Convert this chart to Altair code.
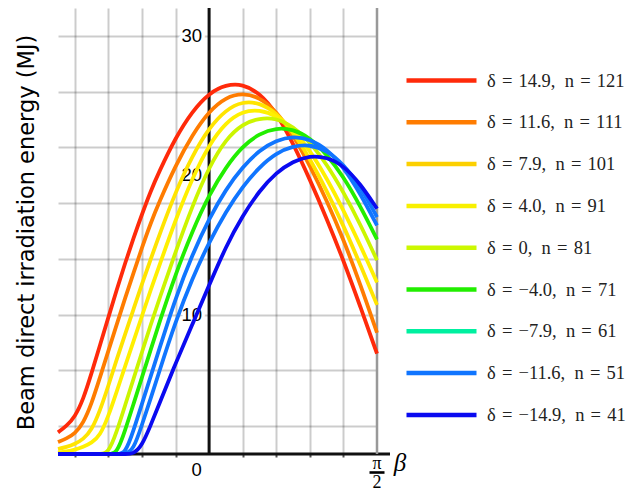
import math
import altair as alt
import pandas as pd

PI = math.pi

# Tilt angle samples, in multiples of pi/20 (finer on the left where curves bend)
beta_steps = [-9, -8.5, -8, -7.5, -7, -6.5, -6, -5.5, -5, -4.5, -4, -3.5, -3,
              -2, -1, 0, 1, 2, 3, 4, 5, 6, 7, 8, 9, 10]

# Declination (degrees) and day number of each curve
delta_text = ["14.9", "11.6", "7.9", "4.0", "0", "\u22124.0", "\u22127.9", "\u221211.6", "\u221214.9"]
day_numbers = [121, 111, 101, 91, 81, 71, 61, 51, 41]

# Daily beam energy (MJ) on the tilted surface
energy_d149 = [1.55, 2.0, 2.65, 3.9, 5.8, 7.8, 9.8, 11.8, 13.7, 15.5, 17.2, 18.8, 20.2,
               22.7, 24.6, 25.9, 26.5, 26.55, 25.9, 24.5, 22.3, 19.7, 16.9, 13.9, 10.6, 7.2]
energy_d116 = [0.86, 1.1, 1.45, 2.2, 3.6, 5.5, 7.4, 9.3, 11.2, 13.0, 14.8, 16.5, 18.0,
               20.7, 22.9, 24.6, 25.6, 25.9, 25.6, 24.6, 22.9, 20.7, 18.2, 15.4, 12.2, 8.7]
energy_d79 = [0.36, 0.5, 0.72, 1.05, 1.7, 3.1, 4.9, 6.8, 8.6, 10.4, 12.2, 13.9, 15.6,
              18.8, 21.4, 23.4, 24.7, 25.3, 25.2, 24.5, 23.1, 21.2, 18.9, 16.4, 13.6, 10.7]
energy_d40 = [0.1, 0.18, 0.3, 0.5, 0.8, 1.3, 2.7, 4.5, 6.3, 8.1, 9.9, 11.7, 13.4,
              16.8, 19.8, 22.2, 23.8, 24.6, 24.7, 24.3, 23.3, 21.8, 19.8, 17.5, 15.0, 12.3]
energy_d0 = [0, 0, 0, 0, 0, 0, 0.05, 1.6, 3.5, 5.4, 7.3, 9.2, 11.0,
             14.5, 17.8, 20.6, 22.6, 23.7, 24.1, 24.1, 23.5, 22.4, 20.8, 18.8, 16.5, 13.9]
energy_dm40 = [0, 0, 0, 0, 0, 0, 0, 0, 1.7, 3.6, 5.5, 7.4, 9.3,
               12.9, 16.0, 18.6, 20.6, 22.1, 23.0, 23.4, 23.3, 22.7, 21.5, 19.9, 17.8, 15.4]
energy_dm79 = [0, 0, 0, 0, 0, 0, 0, 0, 0, 1.7, 3.6, 5.5, 7.4,
               11.2, 14.3, 16.9, 19.0, 20.6, 21.8, 22.5, 22.8, 22.6, 21.9, 20.6, 18.7, 16.4]
energy_dm116 = [0, 0, 0, 0, 0, 0, 0, 0, 0, 0.3, 2.1, 3.9, 5.8,
                9.5, 12.6, 15.2, 17.4, 19.2, 20.6, 21.6, 22.1, 22.2, 21.8, 20.8, 19.2, 17.0]
energy_dm149 = [0, 0, 0, 0, 0, 0, 0, 0, 0, 0, 0.6, 2.0, 3.5,
                6.5, 9.3, 12.1, 14.9, 17.1, 18.9, 20.2, 21.0, 21.4, 21.3, 20.7, 19.4, 17.6]

all_energy = [energy_d149, energy_d116, energy_d79, energy_d40, energy_d0,
              energy_dm40, energy_dm79, energy_dm116, energy_dm149]

line_colors = ["#ff2a0a", "#ff7c00", "#ffe400", "#fff000", "#ccf500",
               "#22ee00", "#1075ff", "#1075ff", "#0a0af0"]
legend_colors = ["#ff2a0a", "#ff7c00", "#fcd000", "#f8f000", "#ccf800",
                 "#22ee00", "#00f0a0", "#1075ff", "#0a0af0"]

# Axis decorations
x_grid_values = [k * PI / 10 for k in (-4, -3, -2, -1, 1, 2, 3, 4)]
y_grid_values = list(range(2, 31, 2))
y_tick_values = [10, 20, 30]
x_tick_values = [0.0]
x_tick_text = ["0"]

BETA_MIN = -0.45 * PI
BETA_MAX = 0.5 * PI
E_MAX = 32
PLOT_W, PLOT_H = 319, 446

eq_sp = "\u2004"     # space around the equals signs
comma_sp = "\u2002"  # space after the comma
series_labels = [f"δ{eq_sp}={eq_sp}{d},{comma_sp}n{eq_sp}={eq_sp}{n}"
                 for d, n in zip(delta_text, day_numbers)]

rows = []
for order, (label, values) in enumerate(zip(series_labels, all_energy)):
    for k, e in zip(beta_steps, values):
        rows.append({"beta": k * PI / 20, "energy": e, "series": label, "order": order})
df = pd.DataFrame(rows)

x_scale = alt.Scale(domain=[BETA_MIN, BETA_MAX], nice=False, zero=False)
y_scale = alt.Scale(domain=[0, E_MAX], nice=False)

x_axis = alt.Axis(values=x_grid_values, grid=True, gridColor="black", gridOpacity=0.2,
                  gridWidth=2, labels=False, ticks=True, tickSize=3, tickWidth=2,
                  tickColor="#555", domain=False, title=None)
y_axis = alt.Axis(values=y_grid_values, grid=True, gridColor="black", gridOpacity=0.2,
                  gridWidth=2, labels=False, ticks=False, domain=False,
                  title="Beam direct irradiation energy (MJ)",
                  titleFont="DejaVu Sans", titleFontSize=22.5, titleFontWeight="normal",
                  titleColor="black", titleAngle=270, titleX=-24.7, titleY=224,
                  titleAlign="center", titleBaseline="alphabetic")

origin = pd.DataFrame({"beta": [0.0], "energy": [0.0]})

# Vertical axis line at beta = 0 (carries the grid axes)
y_axis_line = alt.Chart(origin).mark_rule(color="#111", strokeWidth=3).encode(
    x=alt.X("beta:Q", scale=x_scale, axis=x_axis),
    y=alt.Y("energy:Q", scale=y_scale, axis=y_axis),
    y2=alt.datum(E_MAX),
)
x_axis_line = alt.Chart(origin).mark_rule(color="#111", strokeWidth=3).encode(
    x=alt.datum(BETA_MIN), x2=alt.value(PLOT_W + 13), y=alt.datum(0),
)
right_edge = alt.Chart(origin).mark_rule(color="#999", strokeWidth=2.5).encode(
    x=alt.datum(BETA_MAX), y=alt.datum(0), y2=alt.datum(E_MAX),
)

ytick_df = pd.DataFrame({"energy": y_tick_values, "text": [str(v) for v in y_tick_values]})
label_font = dict(font="Liberation Sans", fontSize=18.5, align="right", baseline="middle", dx=-7)
y_halo = alt.Chart(ytick_df).mark_text(fill="white", stroke="white", strokeWidth=7,
                                       strokeJoin="round", **label_font).encode(
    x=alt.datum(0), y="energy:Q", text="text:N")
y_labels = alt.Chart(ytick_df).mark_text(color="black", **label_font).encode(
    x=alt.datum(0), y="energy:Q", text="text:N")

curves = alt.Chart(df).mark_line(strokeWidth=3.8, interpolate="basis").encode(
    x="beta:Q",
    y="energy:Q",
    color=alt.Color("series:N", scale=alt.Scale(domain=series_labels, range=line_colors),
                    legend=None),
    order="beta:Q",
)

legend_df = pd.DataFrame({"beta": [0.0] * len(series_labels),
                          "energy": [0.0] * len(series_labels),
                          "key": series_labels})
legend_layer = alt.Chart(legend_df).mark_line(strokeWidth=4.5).encode(
    x="beta:Q",
    y="energy:Q",
    color=alt.Color("key:N", scale=alt.Scale(domain=series_labels, range=legend_colors),
                    legend=alt.Legend(title=None, orient="none", legendX=371, legendY=60,
                                      symbolType="M-3.5,0H3.5", symbolSize=400,
                                      symbolStrokeWidth=4.5, symbolOpacity=1,
                                      labelFont="Liberation Serif", labelFontSize=18.5,
                                      labelColor="#222", labelOffset=33, labelLimit=400,
                                      rowPadding=19.8, padding=0)),
)

xtick_df = pd.DataFrame({"beta": x_tick_values, "text": x_tick_text})
x_zero = alt.Chart(xtick_df).mark_text(font="Liberation Sans", fontSize=18.5, dx=-12.5,
                                       align="center", baseline="middle", color="black").encode(
    x="beta:Q", y=alt.value(PLOT_H + 16), text="text:N")

frac_font = dict(font="Liberation Serif", fontSize=18, align="center", baseline="middle",
                 color="black")
x_pi = alt.Chart(origin).mark_text(text="π", **frac_font).encode(
    x=alt.datum(BETA_MAX), y=alt.value(PLOT_H + 9.5))
x_bar = alt.Chart(origin).mark_rule(color="black", strokeWidth=2.6, xOffset=-7.5,
                                    x2Offset=7.5).encode(
    x=alt.datum(BETA_MAX), x2=alt.datum(BETA_MAX), y=alt.value(PLOT_H + 18.5))
x_two = alt.Chart(origin).mark_text(text="2", **frac_font).encode(
    x=alt.datum(BETA_MAX), y=alt.value(PLOT_H + 29))
x_beta = alt.Chart(origin).mark_text(text="β", font="Liberation Serif", fontStyle="italic",
                                     fontSize=25, dx=23, align="center", baseline="middle",
                                     color="black").encode(
    x=alt.datum(BETA_MAX), y=alt.value(PLOT_H + 9))

chart = alt.layer(
    y_axis_line, x_axis_line, right_edge, y_halo, y_labels,
    curves, legend_layer, x_zero, x_pi, x_bar, x_two, x_beta,
).resolve_scale(color="independent").properties(
    width=PLOT_W, height=PLOT_H,
    autosize=alt.AutoSizeParams(type="none"),
    padding={"left": 58, "top": 8, "right": 634 - 58 - PLOT_W, "bottom": 493 - 8 - PLOT_H},
    background="white",
).configure_view(strokeWidth=0)

chart.save("out.html", embed_options={"renderer": "svg", "actions": False})
